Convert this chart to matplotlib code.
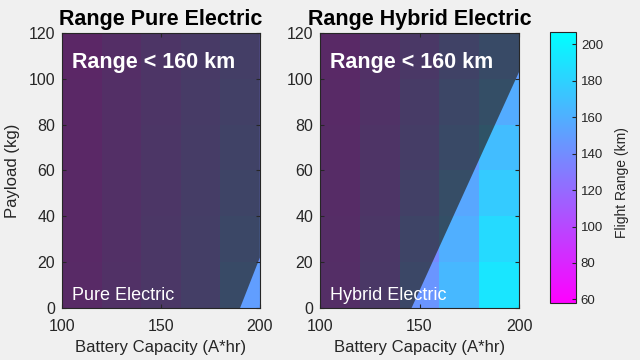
import numpy as np
import matplotlib.pyplot as plt
from matplotlib.patches import Polygon

plt.rcParams['font.family'] = ['Liberation Sans', 'DejaVu Sans']

# grid edges
battery_edges = [100, 120, 140, 160, 180, 200]
payload_edges = [0, 20, 40, 60, 80, 100, 120]

# flight range (km), rows = payload bands (bottom to top), cols = battery bands
range_pure = [
    [86, 100, 113, 127, 150],
    [85, 99, 112, 126, 144],
    [84, 98, 111, 124, 138],
    [83, 97, 110, 122, 134],
    [82, 96, 109, 120, 130],
    [81, 95, 108, 118, 127],
]
range_hybrid = [
    [95, 115, 145, 165, 192],
    [93, 112, 138, 160, 185],
    [91, 109, 130, 155, 176],
    [89, 106, 125, 148, 168],
    [87, 103, 120, 142, 158],
    [85, 100, 115, 135, 150],
]

# 160 km boundary: (battery at payload 0, payload at battery 200)
limit_pure = (190, 22)
limit_hybrid = (146, 103)

titles = ['Range Pure Electric', 'Range Hybrid Electric']
labels = ['Pure Electric', 'Hybrid Electric']

vmin, vmax = 58, 206.6
bg = '#f0f0f0'
txt = '#262626'

fig = plt.figure(figsize=(6.4, 3.6), dpi=100, facecolor=bg)
ax1 = fig.add_axes([0.097, 0.1444, 0.309, 0.764])
ax2 = fig.add_axes([0.500, 0.1444, 0.311, 0.764])
cax = fig.add_axes([0.859, 0.158, 0.041, 0.753])

for ax, data, lim, title, lab in zip([ax1, ax2], [range_pure, range_hybrid],
                                     [limit_pure, limit_hybrid], titles, labels):
    mesh = ax.pcolormesh(battery_edges, payload_edges, np.array(data),
                         cmap='cool_r', vmin=vmin, vmax=vmax, shading='flat')
    poly = Polygon([(100, 0), (lim[0], 0), (200, lim[1]), (200, 120), (100, 120)],
                   closed=True, facecolor=(0.155, 0.155, 0.155), alpha=0.71,
                   edgecolor='none', zorder=2)
    ax.add_patch(poly)
    ax.set_xlim(100, 200)
    ax.set_ylim(0, 120)
    ax.set_xticks([100, 150, 200])
    ax.set_yticks([0, 20, 40, 60, 80, 100, 120])
    ax.tick_params(direction='in', length=3, labelsize=11.5, colors=txt,
                   top=True, right=True)
    ax.tick_params(axis='x', pad=8)
    ax.tick_params(axis='y', pad=5)
    for s in ax.spines.values():
        s.set_color(txt)
        s.set_linewidth(0.8)
    ax.set_title(title, fontsize=15.5, fontweight='bold', color='black', pad=6)
    ax.set_xlabel('Battery Capacity (A*hr)', fontsize=12, color=txt, labelpad=4)
    ax.text(105, 107, 'Range < 160 km', color='white', fontsize=15.5,
            fontweight='bold', va='center', ha='left', zorder=3)
    ax.text(105, 5.5, lab, color='white', fontsize=13, va='center',
            ha='left', zorder=3)

ax1.set_ylabel('Payload (kg)', fontsize=12, color=txt, labelpad=6)

cb = fig.colorbar(mesh, cax=cax)
cb.set_ticks([60, 80, 100, 120, 140, 160, 180, 200])
cb.ax.tick_params(direction='in', length=3, labelsize=9.5, colors=txt)
cb.outline.set_edgecolor(txt)
cb.outline.set_linewidth(0.8)
cb.set_label('Flight Range (km)', fontsize=10, color=txt)
cb.ax.yaxis.set_label_coords(2.5, 0.446)

fig.savefig('out.png', dpi=100, facecolor=bg)
